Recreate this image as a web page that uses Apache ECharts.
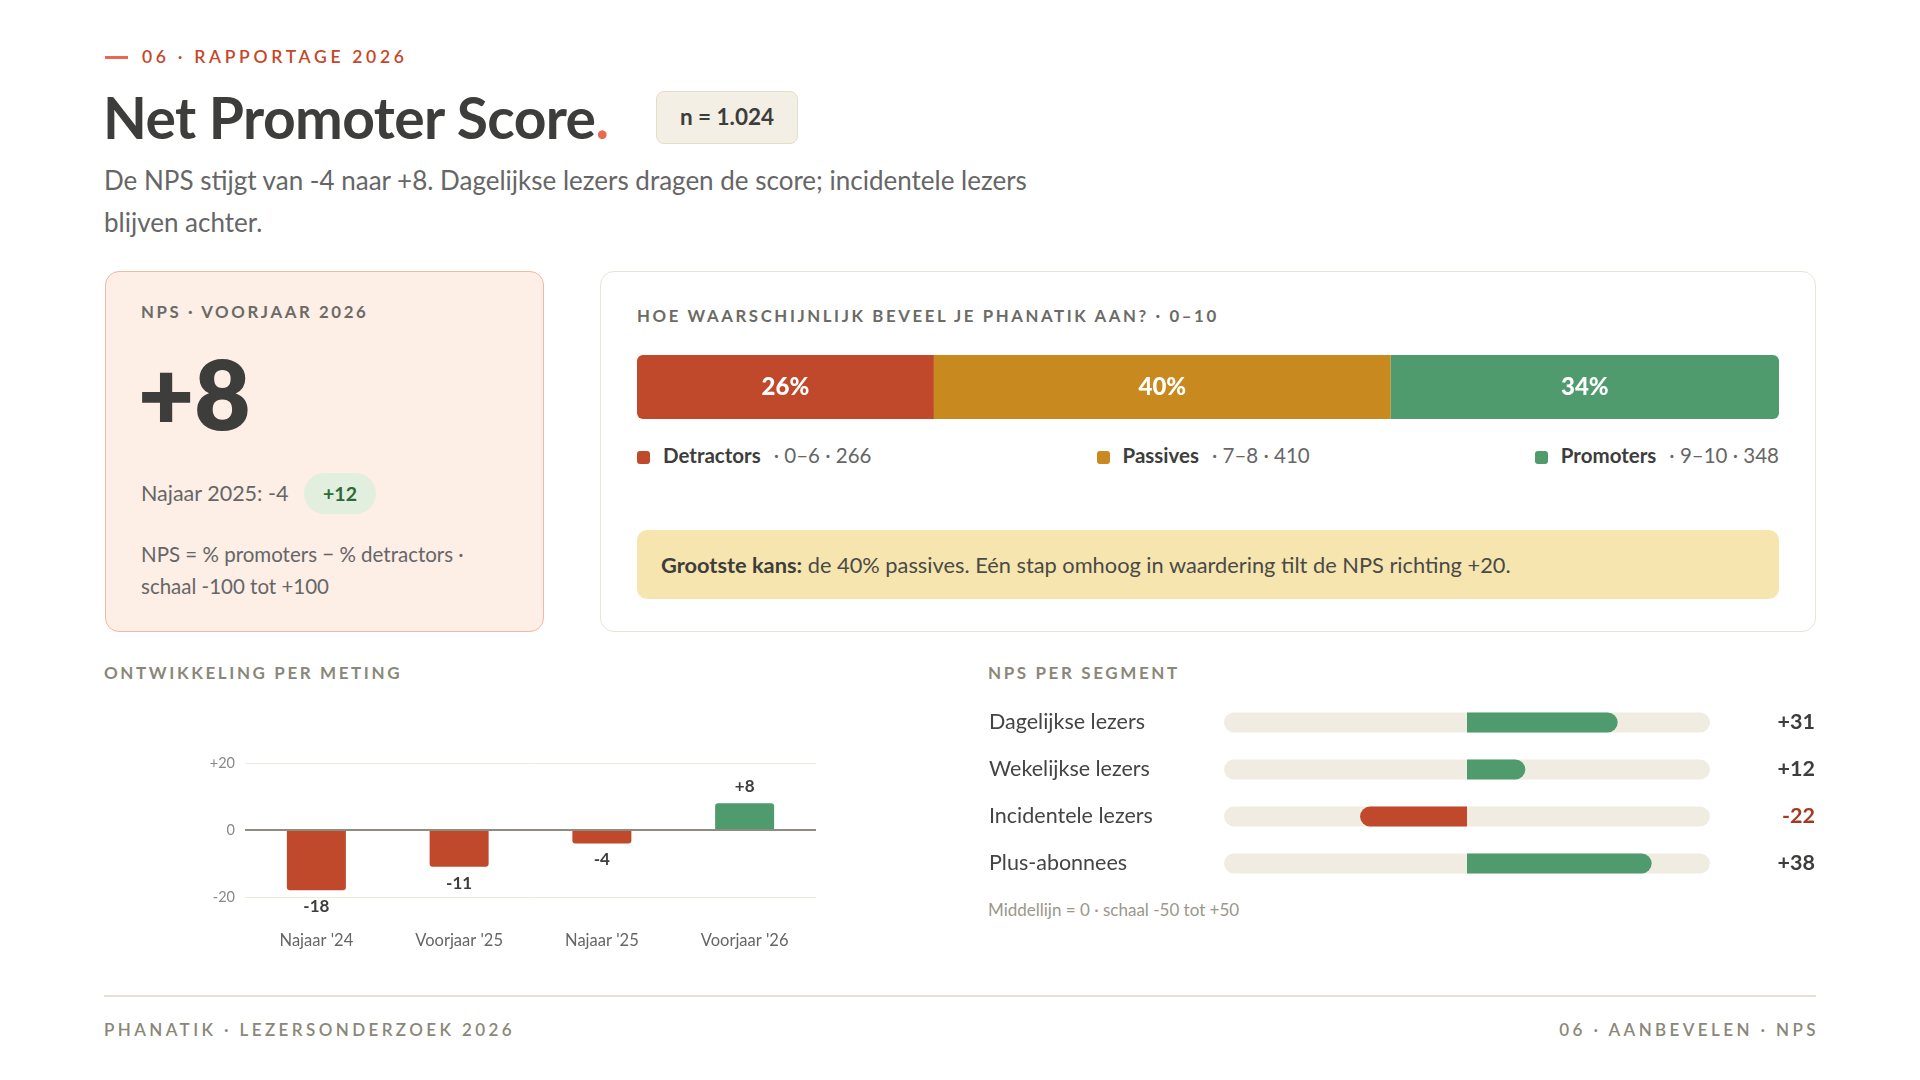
<!DOCTYPE html>
<html>
<head>
<meta charset="utf-8">
<script src="https://cdn.jsdelivr.net/npm/echarts@6/dist/echarts.min.js"></script>
<style>
  body { margin: 0; background: #fff; font-family: Lato, "Noto Sans", sans-serif; color: #3d3d3b; }
  #page { position: relative; width: 1920px; height: 1080px; overflow: hidden; }
  .abs { position: absolute; white-space: nowrap; }
  .caps { font-weight: 700; letter-spacing: 2.6px; text-transform: uppercase; }
  .card { position: absolute; box-sizing: border-box; border-radius: 14px; }
  .sq { display: inline-block; width: 13px; height: 13px; border-radius: 3px; margin-right: 13px; vertical-align: -1px; }
</style>
</head>
<body>
<div id="page">
  <div class="abs" style="left:105px;top:56px;width:23px;height:3px;background:#e8694f;"></div>
  <div class="abs caps" style="left:142px;top:46px;font-size:17.5px;line-height:22px;color:#c4472a;letter-spacing:3.7px;font-weight:600;">06 · Rapportage 2026</div>

  <div class="abs" style="left:103px;top:82px;font-size:57px;line-height:70px;font-weight:700;color:#3d3d3b;letter-spacing:-0.6px;">Net Promoter Score<span style="color:#e8694f;">.</span></div>
  <div class="abs" style="left:656px;top:91px;width:142px;height:53px;box-sizing:border-box;background:#f4efe4;border:1.5px solid #e6ddc8;border-radius:8px;font-size:22.5px;font-weight:700;line-height:50px;text-align:center;color:#3d3d3b;">n = 1.024</div>

  <div class="abs" style="left:104px;top:159px;font-size:26px;line-height:42px;color:#666;">De NPS stijgt van -4 naar +8. Dagelijkse lezers dragen de score; incidentele lezers<br>blijven achter.</div>

  <!-- KPI card -->
  <div class="card" style="left:105px;top:271px;width:439px;height:361px;background:#fdeee6;border:1.5px solid #f0b9a4;">
    <div class="abs caps" style="left:35px;top:30px;font-size:16.8px;line-height:20px;color:#6b6b66;">NPS · Voorjaar 2026</div>
    <div class="abs" style="left:32px;top:66px;font-size:97px;line-height:110px;font-weight:800;color:#3d3d3b;" id="kpiValue"></div>
    <div class="abs" style="left:35px;top:207px;font-size:21.5px;line-height:28px;color:#666;" id="kpiPrev"></div>
    <div class="abs" style="left:198px;top:201px;width:72px;height:41px;border-radius:21px;background:#e2efdf;color:#2c6a36;font-weight:700;font-size:19.5px;line-height:41px;text-align:center;" id="kpiDelta"></div>
    <div class="abs" style="left:35px;top:266px;font-size:20.5px;line-height:32px;color:#666;">NPS = % promoters − % detractors ·<br>schaal -100 tot +100</div>
  </div>

  <!-- distribution card -->
  <div class="card" style="left:600px;top:271px;width:1216px;height:361px;background:#fff;border:1.5px solid #e9e4d9;">
    <div class="abs caps" style="left:36px;top:34px;font-size:16.8px;line-height:20px;color:#6b6b66;">Hoe waarschijnlijk beveel je Phanatik aan? · 0–10</div>
  </div>
  <div id="dist" class="abs" style="left:637px;top:355px;width:1142px;height:64px;"></div>
  <div id="distLegend" class="abs" style="left:637px;top:441px;width:1142px;height:28px;display:flex;justify-content:space-between;font-size:20.5px;line-height:28px;"></div>
  <div class="abs" style="left:637px;top:530px;width:1142px;height:69px;background:#f6e5ae;border-radius:10px;"></div>
  <div class="abs" style="left:661px;top:550px;font-size:21.8px;line-height:30px;color:#4a4a46;"><b style="color:#3d3d3b;">Grootste kans:</b> de 40% passives. Eén stap omhoog in waardering tilt de NPS richting +20.</div>

  <!-- bottom left -->
  <div class="abs caps" style="left:104px;top:663px;font-size:17px;line-height:20px;color:#8a877a;">Ontwikkeling per meting</div>
  <div id="trend" class="abs" style="left:104px;top:700px;width:736px;height:280px;"></div>

  <!-- bottom right -->
  <div class="abs caps" style="left:988px;top:663px;font-size:17px;line-height:20px;color:#8a877a;">NPS per segment</div>
  <div id="segments" class="abs" style="left:986px;top:699px;width:832px;height:188px;"></div>
  <div class="abs" style="left:988px;top:899px;font-size:17px;line-height:22px;color:#9a978c;">Middellijn = 0 · schaal -50 tot +50</div>

  <!-- footer -->
  <div class="abs" style="left:104px;top:995px;width:1712px;height:2px;background:#e6e1d6;"></div>
  <div class="abs caps" style="left:104px;top:1019px;font-size:17px;line-height:22px;color:#8a8778;letter-spacing:3.4px;font-weight:600;">Phanatik · Lezersonderzoek 2026</div>
  <div class="abs caps" style="right:104px;top:1019px;font-size:17px;line-height:22px;color:#8a8778;letter-spacing:3.4px;font-weight:600;margin-right:-3px;">06 · Aanbevelen · NPS</div>
</div>

<script>
// kerncijfers
var npsNow = 8;
var npsPrev = -4;
var npsPrevLabel = 'Najaar 2025';

// verdeling 0-10
var groupNames = ['Detractors', 'Passives', 'Promoters'];
var groupRanges = ['0–6', '7–8', '9–10'];
var groupCounts = [266, 410, 348];
var groupShares = [26, 40, 34];
var groupColors = ['#c0492b', '#c8891e', '#4f9b6d'];

// ontwikkeling per meting
var waves = ["Najaar '24", "Voorjaar '25", "Najaar '25", "Voorjaar '26"];
var waveNps = [-18, -11, -4, 8];

// per segment
var segments = ['Dagelijkse lezers', 'Wekelijkse lezers', 'Incidentele lezers', 'Plus-abonnees'];
var segmentNps = [31, 12, -22, 38];

var RED = '#c0492b';
var GREEN = '#4f9b6d';
var FONT = 'Lato, "Noto Sans", sans-serif';

function signed(v) {
  return v > 0 ? '+' + v : '' + v;
}

document.getElementById('kpiValue').textContent = signed(npsNow);
document.getElementById('kpiPrev').textContent = npsPrevLabel + ': ' + signed(npsPrev);
document.getElementById('kpiDelta').textContent = signed(npsNow - npsPrev);

// legend under the stacked bar
var legendHtml = '';
for (var i = 0; i < groupNames.length; i++) {
  legendHtml += '<div><span class="sq" style="background:' + groupColors[i] + '"></span>' +
    '<b style="color:#3d3d3b;">' + groupNames[i] + '</b>' +
    '<span style="color:#666;margin-left:13px;">· ' + groupRanges[i] + ' · ' + groupCounts[i] + '</span></div>';
}
document.getElementById('distLegend').innerHTML = legendHtml;

// stacked distribution bar
var distChart = echarts.init(document.getElementById('dist'), null, { renderer: 'canvas' });
var distSeries = groupNames.map(function (name, i) {
  var radius = [0, 0, 0, 0];
  if (i === 0) radius = [6, 0, 0, 6];
  if (i === groupNames.length - 1) radius = [0, 6, 6, 0];
  return {
    type: 'bar',
    name: name,
    stack: 'total',
    barWidth: 64,
    data: [groupShares[i]],
    itemStyle: { color: groupColors[i], borderRadius: radius },
    label: {
      show: true,
      position: 'inside',
      formatter: '{c}%',
      color: '#fff',
      fontFamily: FONT,
      fontWeight: 900,
      fontSize: 24,
    },
  };
});
distChart.setOption({
  animation: false,
  grid: { left: 0, right: 0, top: 0, bottom: 0 },
  xAxis: { type: 'value', min: 0, max: 100, show: false },
  yAxis: { type: 'category', data: ['NPS'], show: false },
  series: distSeries,
});

// trend per meting
var trendChart = echarts.init(document.getElementById('trend'), null, { renderer: 'canvas' });
trendChart.setOption({
  animation: false,
  grid: { left: 141, right: 24, top: 63, bottom: 83 },
  xAxis: {
    type: 'category',
    data: waves,
    axisLine: { show: false, onZero: false },
    axisTick: { show: false },
    axisLabel: { color: '#666', fontFamily: FONT, fontSize: 16.5, margin: 35 },
  },
  yAxis: {
    type: 'value',
    min: -20,
    max: 20,
    interval: 20,
    axisLine: { show: false },
    axisTick: { show: false },
    splitLine: { lineStyle: { color: '#efeae0', width: 1 } },
    axisLabel: {
      color: '#888',
      fontFamily: FONT,
      fontSize: 14.5,
      margin: 10,
      formatter: function (v) { return signed(v); },
    },
  },
  series: [{
    type: 'bar',
    barWidth: 59,
    data: waveNps.map(function (v) {
      return {
        value: v,
        itemStyle: {
          color: v >= 0 ? GREEN : RED,
          borderRadius: v >= 0 ? [3, 3, 0, 0] : [0, 0, 3, 3],
        },
        label: { position: v >= 0 ? 'top' : 'bottom' },
      };
    }),
    label: {
      show: true,
      distance: 8,
      color: '#3d3d3b',
      fontFamily: FONT,
      fontWeight: 'bold',
      fontSize: 17,
      formatter: function (p) { return signed(p.value); },
    },
    markLine: {
      silent: true,
      symbol: 'none',
      label: { show: false },
      lineStyle: { color: '#8f8b80', width: 2, type: 'solid' },
      data: [{ yAxis: 0 }],
    },
  }],
});

// segmenten
var segChart = echarts.init(document.getElementById('segments'), null, { renderer: 'canvas' });
segChart.setOption({
  animation: false,
  grid: { left: 237, right: 107, top: 0, bottom: 0 },
  xAxis: { type: 'value', min: -50, max: 50, show: false },
  yAxis: [{
    type: 'category',
    inverse: true,
    data: segments,
    axisLine: { show: false },
    axisTick: { show: false },
    axisLabel: { align: 'left', margin: 235, color: '#444', fontFamily: FONT, fontSize: 21.5 },
  }, {
    type: 'category',
    inverse: true,
    position: 'right',
    data: segmentNps.map(signed),
    axisLine: { show: false },
    axisTick: { show: false },
    axisLabel: {
      align: 'right',
      margin: 105,
      fontFamily: FONT,
      fontWeight: 'bold',
      fontSize: 21.5,
      color: function (v) { return v.charAt(0) === '-' ? '#a3391f' : '#3d3d3b'; },
    },
  }],
  series: [{
    type: 'bar',
    barWidth: 20,
    showBackground: true,
    backgroundStyle: { color: '#f0ece2', borderRadius: 10 },
    data: segmentNps.map(function (v) {
      return {
        value: v,
        itemStyle: {
          color: v >= 0 ? GREEN : RED,
          borderRadius: v >= 0 ? [0, 10, 10, 0] : [10, 0, 0, 10],
        },
      };
    }),
  }],
});
</script>
</body>
</html>
